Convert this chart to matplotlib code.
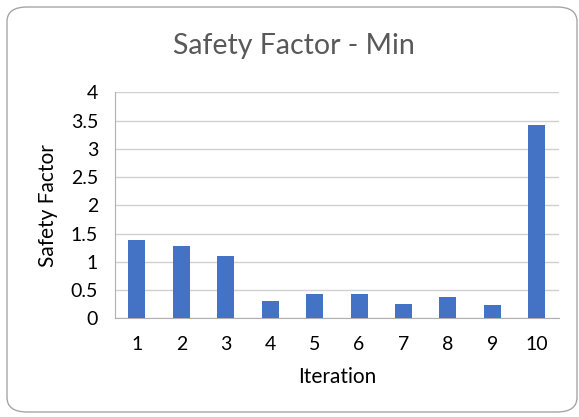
import matplotlib
matplotlib.use("Agg")
import matplotlib.pyplot as plt
from matplotlib.patches import FancyBboxPatch

iterations = ["1", "2", "3", "4", "5", "6", "7", "8", "9", "10"]
safety_factor = [1.38, 1.28, 1.10, 0.30, 0.43, 0.43, 0.25, 0.38, 0.23, 3.42]
y_ticks = [0, 0.5, 1, 1.5, 2, 2.5, 3, 3.5, 4]
y_tick_labels = ["0", "0.5", "1", "1.5", "2", "2.5", "3", "3.5", "4"]

W, H = 579, 417
plt.rcParams['font.family'] = ['Lato', 'DejaVu Sans']
fig = plt.figure(figsize=(W / 100, H / 100), dpi=100)

# rounded chart border
border = FancyBboxPatch((7 / W, 1 - 412 / H), (577 - 7) / W, (412 - 7) / H,
                        boxstyle="round,pad=0,rounding_size=0.035",
                        transform=fig.transFigure, facecolor="white",
                        edgecolor="#a6a6a6", linewidth=1.0, zorder=-10)
fig.add_artist(border)

left, right = 114.7, 559
top, bottom = 92.3, 318.3
ax = fig.add_axes([left / W, 1 - bottom / H, (right - left) / W, (bottom - top) / H])
ax.set_facecolor("none")
ax.set_zorder(5)

x = list(range(len(iterations)))
ax.bar(x, safety_factor, width=0.38, color="#4472c4", zorder=3)
ax.set_xlim(-0.5, len(iterations) - 0.5)
ax.set_ylim(0, 4)
ax.set_xticks(x)
ax.set_xticklabels(iterations)
ax.set_yticks(y_ticks)
ax.set_yticklabels(y_tick_labels)
ax.tick_params(axis="both", length=0, labelsize=14, colors="#000000")
ax.tick_params(axis="x", pad=13)
ax.tick_params(axis="y", pad=12)
ax.yaxis.grid(True, color="#d0d0d0", linewidth=1.0, zorder=0)
for s in ["top", "right"]:
    ax.spines[s].set_visible(False)
ax.spines["left"].set_color("#b0b0b0")
ax.spines["bottom"].set_color("#b0b0b0")

ax.set_xlabel("Iteration", fontsize=15, color="#000000", labelpad=10)
ax.set_ylabel("Safety Factor", fontsize=15, color="#000000", labelpad=9)
fig.text(294 / W, 1 - 46 / H, "Safety Factor - Min", ha="center", va="center",
         fontsize=20.5, color="#595959")

fig.savefig("out.png", dpi=100)
